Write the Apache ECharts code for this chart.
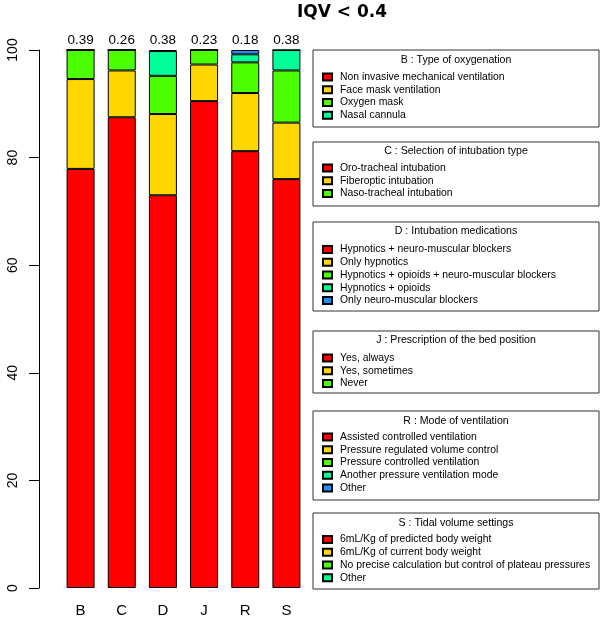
<!DOCTYPE html>
<html>
<head>
<meta charset="utf-8">
<script src="https://cdn.jsdelivr.net/npm/echarts@6/dist/echarts.min.js"></script>
<style>html,body{margin:0;padding:0;background:#fff;}#c{width:600px;height:620px;}</style>
</head>
<body>
<div id="c"></div>
<script>
var categories = ['B', 'C', 'D', 'J', 'R', 'S'];
var iqvLabels = ['0.39', '0.26', '0.38', '0.23', '0.18', '0.38'];
var level1 = [77.9, 87.5, 73.0, 90.5, 81.2, 76.0];
var level2 = [16.7, 8.7, 15.1, 6.8, 10.8, 10.5];
var level3 = [5.4, 3.8, 7.1, 2.7, 5.7, 9.7];
var level4 = [0, 0, 4.6, 0, 1.5, 3.8];
var level5 = [0, 0, 0.2, 0, 0.8, 0];
var yTicks = [0, 20, 40, 60, 80, 100];
var palette = ['#FF0000', '#FFD700', '#4CFF00', '#00FF99', '#1E8FFF'];
var chartTitle = 'IQV < 0.4';
var groupTitles = [
  'B : Type of oxygenation',
  'C : Selection of intubation type',
  'D : Intubation medications',
  'J : Prescription of the bed position',
  'R : Mode of ventilation',
  'S : Tidal volume settings'
];
var groupItems = [
  ['Non invasive mechanical ventilation', 'Face mask ventilation', 'Oxygen mask', 'Nasal cannula'],
  ['Oro-tracheal intubation', 'Fiberoptic intubation', 'Naso-tracheal intubation'],
  ['Hypnotics + neuro-muscular blockers', 'Only hypnotics', 'Hypnotics + opioids + neuro-muscular blockers', 'Hypnotics + opioids', 'Only neuro-muscular blockers'],
  ['Yes, always', 'Yes, sometimes', 'Never'],
  ['Assisted controlled ventilation', 'Pressure regulated volume control', 'Pressure controlled ventilation', 'Another pressure ventilation mode', 'Other'],
  ['6mL/Kg of predicted body weight', '6mL/Kg of current body weight', 'No precise calculation but control of plateau pressures', 'Other ']
];

// layout of legend boxes (positions only)
var boxes = [
  {y: 50, h: 77, titleY: 55, itemY: 70.5},
  {y: 142, h: 64, titleY: 146, itemY: 161.5},
  {y: 222, h: 89, titleY: 226, itemY: 243},
  {y: 331, h: 62, titleY: 334.5, itemY: 351.5},
  {y: 411, h: 89, titleY: 415.5, itemY: 430.5},
  {y: 513, h: 76, titleY: 517.5, itemY: 533}
];
var boxX = 313, boxW = 286;
var FONT = '"Liberation Sans", Arial, sans-serif';

var levels = [level1, level2, level3, level4, level5];
var series = levels.map(function (d, i) {
  return {
    name: 'level' + (i + 1), type: 'bar', stack: 'all', data: d,
    barWidth: 28,
    itemStyle: {color: palette[i], borderColor: '#000', borderWidth: 1},
    emphasis: {disabled: true}
  };
});
groupItems.forEach(function (items) {
  items.forEach(function (nm, j) {
    series.push({
      name: nm, type: 'bar', stack: 'all', data: [],
      itemStyle: {color: palette[j], borderColor: '#000', borderWidth: 1}
    });
  });
});

var titles = [{
  text: chartTitle, left: 342, top: 4, textAlign: 'center', padding: 0,
  textStyle: {fontFamily: '"DejaVu Sans", sans-serif', fontSize: 17, fontWeight: 'bold', color: '#000'}
}];
var legends = [];
var graphics = [];
groupTitles.forEach(function (t, i) {
  var b = boxes[i];
  titles.push({
    text: t, left: boxX + boxW / 2, top: b.titleY, textAlign: 'center', padding: 0,
    textStyle: {fontFamily: FONT, fontSize: 10.6, fontWeight: 'normal', color: '#000'}
  });
  legends.push({
    data: groupItems[i], orient: 'vertical', left: 322, top: b.itemY, padding: 0,
    itemWidth: 9, itemHeight: 7, itemGap: 0, icon: 'rect', selectedMode: false,
    textStyle: {fontFamily: FONT, fontSize: 10.4, color: '#000', lineHeight: 12.8, padding: [0, 0, 0, 3]}
  });
  graphics.push({
    type: 'rect', shape: {x: boxX, y: b.y, width: boxW, height: b.h},
    style: {fill: 'none', stroke: '#333', lineWidth: 1}, z: 100
  });
});

var chart = echarts.init(document.getElementById('c'), null, {renderer: 'canvas'});
chart.setOption({
  animation: false,
  backgroundColor: '#fff',
  title: titles,
  legend: legends,
  graphic: graphics,
  grid: {left: 60, right: 293, top: 50, bottom: 32, containLabel: false},
  xAxis: [{
    type: 'category', data: categories, position: 'bottom',
    axisLine: {show: false}, axisTick: {show: false},
    axisLabel: {fontFamily: FONT, fontSize: 15, color: '#000', margin: 15}
  }, {
    type: 'category', data: iqvLabels, position: 'top',
    axisLine: {show: false}, axisTick: {show: false},
    axisLabel: {fontFamily: FONT, fontSize: 13.5, color: '#000', margin: 3}
  }],
  yAxis: {
    type: 'value', min: yTicks[0], max: yTicks[yTicks.length - 1], interval: 20,
    offset: 21,
    splitLine: {show: false},
    axisLine: {show: true, lineStyle: {color: '#000', width: 1}},
    axisTick: {show: true, length: 10, lineStyle: {color: '#000'}},
    axisLabel: {fontFamily: FONT, fontSize: 14, color: '#000', rotate: 90, margin: 19}
  },
  series: series
});
</script>
</body>
</html>
